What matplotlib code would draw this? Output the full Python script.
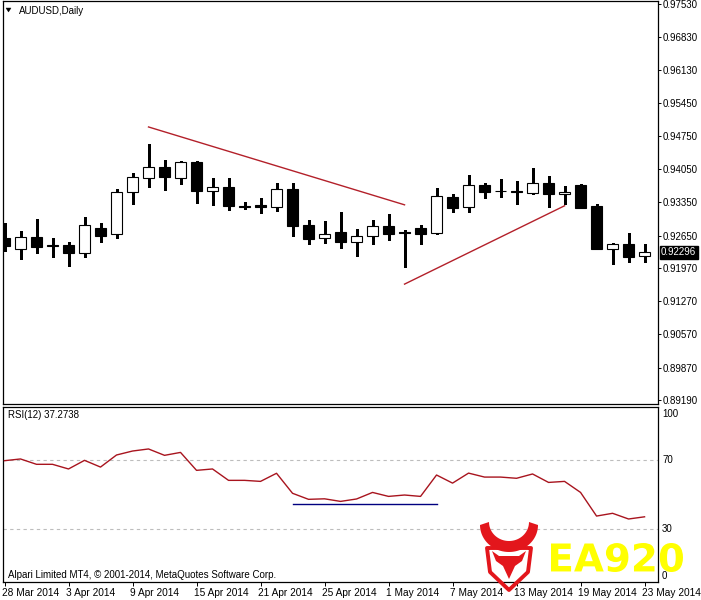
import matplotlib
matplotlib.use("Agg")
import matplotlib.pyplot as plt
import numpy as np
from matplotlib.transforms import ScaledTranslation
from matplotlib.textpath import TextPath
from matplotlib.font_manager import FontProperties
from matplotlib.patches import PathPatch, Polygon
from matplotlib.path import Path

# ---------------- data ----------------
symbol = "AUDUSD,Daily"
opens = [0.9260, 0.9237, 0.9262, 0.9245, 0.9246, 0.9229, 0.9281, 0.9269, 0.9357, 0.9387,
         0.9410, 0.9387, 0.9420, 0.9359, 0.9368, 0.9327, 0.9330, 0.9326, 0.9363, 0.9288,
         0.9260, 0.9273, 0.9252, 0.9264, 0.9286, 0.9273, 0.9281, 0.9271, 0.9347, 0.9326,
         0.9372, 0.9360, 0.9359, 0.9355, 0.9376, 0.9353, 0.9372, 0.9328, 0.9237, 0.9248,
         0.9223]
highs = [0.9292, 0.9275, 0.9300, 0.9260, 0.9252, 0.9305, 0.9292, 0.9363, 0.9397, 0.9458,
         0.9424, 0.9422, 0.9422, 0.9387, 0.9387, 0.9336, 0.9345, 0.9376, 0.9376, 0.9298,
         0.9296, 0.9315, 0.9279, 0.9298, 0.9311, 0.9277, 0.9288, 0.9366, 0.9353, 0.9393,
         0.9376, 0.9385, 0.9380, 0.9408, 0.9391, 0.9370, 0.9374, 0.9332, 0.9250, 0.9271,
         0.9248]
lows = [0.9233, 0.9216, 0.9229, 0.9221, 0.9202, 0.9221, 0.9252, 0.9260, 0.9332, 0.9368,
        0.9361, 0.9374, 0.9334, 0.9330, 0.9319, 0.9321, 0.9313, 0.9317, 0.9264, 0.9248,
        0.9250, 0.9239, 0.9223, 0.9248, 0.9256, 0.9200, 0.9248, 0.9269, 0.9315, 0.9315,
        0.9345, 0.9347, 0.9332, 0.9353, 0.9326, 0.9332, 0.9323, 0.9236, 0.9206, 0.9210,
        0.9210]
closes = [0.9244, 0.9262, 0.9241, 0.9243, 0.9229, 0.9288, 0.9264, 0.9357, 0.9389, 0.9410,
          0.9389, 0.9420, 0.9359, 0.9368, 0.9328, 0.9325, 0.9326, 0.9363, 0.9286, 0.9258,
          0.9269, 0.9252, 0.9264, 0.9286, 0.9269, 0.9271, 0.9269, 0.9349, 0.9324, 0.9372,
          0.9357, 0.9359, 0.9357, 0.9376, 0.9353, 0.9357, 0.9324, 0.9237, 0.9248, 0.9221,
          0.92296]
rsi = [69.8, 70.8, 67.7, 67.7, 65.0, 70.0, 66.1, 73.1, 75.4, 76.6,
       72.9, 74.6, 64.2, 65.0, 58.4, 58.4, 57.8, 62.5, 50.9, 47.4,
       47.7, 46.2, 47.6, 51.4, 49.1, 49.9, 49.1, 61.5, 56.8, 62.6,
       60.3, 60.3, 59.6, 62.1, 57.2, 57.8, 51.4, 37.7, 39.3, 36.0,
       37.27]
date_labels = ["28 Mar 2014", "3 Apr 2014", "9 Apr 2014", "15 Apr 2014", "21 Apr 2014",
               "25 Apr 2014", "1 May 2014", "7 May 2014", "13 May 2014", "19 May 2014",
               "23 May 2014"]
date_label_bars = [0, 4, 8, 12, 16, 20, 24, 28, 32, 36, 40]
price_ticks = [0.97530, 0.96830, 0.96130, 0.95450, 0.94750, 0.94050, 0.93350,
               0.92650, 0.91970, 0.91270, 0.90570, 0.89870, 0.89190]
rsi_levels = [70, 30]
rsi_axis_labels = [100, 70, 30, 0]
rsi_title = "RSI(12) 37.2738"
last_price = 0.92296
copyright_text = "Alpari Limited MT4, \u00a9 2001-2014, MetaQuotes Software Corp."
trend_down = ([9, 25], [0.9494, 0.9330])
trend_up = ([25, 35], [0.9163, 0.9328])
rsi_hline = ([18, 27], [44.7, 44.7])

# ---------------- layout ----------------
W, H = 701, 600
fig = plt.figure(figsize=(W / 100, H / 100), dpi=100, facecolor="white")

def fbox(x0, y0, x1, y1):
    return [x0 / W, 1 - y1 / H, (x1 - x0) / W, (y1 - y0) / H]

ax = fig.add_axes(fbox(3, 1, 658, 404))
ax2 = fig.add_axes(fbox(3, 406.7, 658, 582.3))

LAB = ["Liberation Sans", "DejaVu Sans"]
NARROW = ["Liberation Sans Narrow", "Liberation Sans", "DejaVu Sans"]

x = np.arange(len(opens))
o = np.array(opens); c = np.array(closes)
hi = np.array(highs); lo = np.array(lows)
up = c >= o

# wicks
ax.vlines(x, lo, hi, color="black", linewidth=0.9, zorder=2, antialiased=False)
# bodies
bottoms = np.minimum(o, c)
heights = np.maximum(np.abs(c - o), 0.00004)
ax.bar(x, heights, bottom=bottoms, width=0.64,
       color=np.where(up, "white", "black"), edgecolor="black",
       linewidth=0.8, zorder=3)

# trend lines
ax.plot(trend_down[0], trend_down[1], color="#B3202A", linewidth=1.0, zorder=4)
ax.plot(trend_up[0], trend_up[1], color="#B3202A", linewidth=1.0, zorder=4)

ax.set_xlim(-0.094, 40.84)
ax.set_ylim(0.89105, 0.97593)
ax.set_xticks([])
ax.yaxis.tick_right()
ax.set_yticks(price_ticks)
ax.set_yticklabels([f"{v:.5f}" for v in price_ticks], family=LAB, fontsize=7)
ax.tick_params(axis="y", length=2.2, width=0.7, pad=1.2, colors="black")
for s in ax.spines.values():
    s.set_linewidth(0.9)
    s.set_color("black")

# last price box
ax.text(1.0, last_price, f"{last_price:.5f}",
        transform=ax.get_yaxis_transform() + ScaledTranslation(3 / 100, 0, fig.dpi_scale_trans),
        ha="left", va="center", fontsize=7, family=LAB, color="white",
        bbox=dict(boxstyle="square,pad=0.15", facecolor="black", edgecolor="black"),
        zorder=6, clip_on=False)

# title with triangle
fig.add_artist(Polygon([(6 / W, 1 - 8 / H), (11 / W, 1 - 8 / H), (8.5 / W, 1 - 12 / H)],
                       closed=True, transform=fig.transFigure, facecolor="black",
                       edgecolor="black", linewidth=0.3))
fig.text(19 / W, 1 - 10.5 / H, symbol, ha="left", va="center", fontsize=7, family=LAB)

# ---------------- RSI panel ----------------
ax2.plot(x, rsi, color="#A8141E", linewidth=1.0, zorder=3)
for lv in rsi_levels:
    ax2.axhline(lv, color="#BDBDBD", linewidth=0.8, linestyle=(0, (3, 3)), zorder=1)
ax2.plot(rsi_hline[0], rsi_hline[1], color="#000080", linewidth=1.0, zorder=4)
ax2.set_xlim(-0.094, 40.84)
ax2.set_ylim(-0.7, 101.1)
ax2.set_yticks([])
for s in ax2.spines.values():
    s.set_linewidth(0.9)
    s.set_color("black")

off = ScaledTranslation(4 / 100, 0, fig.dpi_scale_trans)
for lv in rsi_axis_labels:
    va = "top" if lv == 100 else ("bottom" if lv == 0 else "center")
    ax2.text(1.0, lv, str(lv), transform=ax2.get_yaxis_transform() + off,
             ha="left", va=va, fontsize=7, family=LAB, clip_on=False)

fig.text(8 / W, 1 - 415 / H, rsi_title, ha="left", va="center", fontsize=7, family=LAB)
fig.text(8 / W, 1 - 575 / H, copyright_text, ha="left", va="center", fontsize=7, family=LAB)

ax2.set_xticks(date_label_bars)
ax2.set_xticklabels(date_labels, family=NARROW, fontsize=7.3, ha="left")
ax2.tick_params(axis="x", direction="out", length=3, width=0.7, pad=1.0)
lshift = ScaledTranslation(-3 / 100, 0, fig.dpi_scale_trans)
for lab in ax2.get_xticklabels():
    lab.set_transform(lab.get_transform() + lshift)

# ---------------- watermark logo ----------------
red = "#E3161C"

def fpts(pts):
    return [(px / W, 1 - py / H) for px, py in pts]

t = np.linspace(0, np.pi, 50)
outer = [(509 + 29 * np.cos(a), 525 + 27 * np.sin(a)) for a in t]
inner = [(509 + 20 * np.cos(a), 522 + 19 * np.sin(a)) for a in t[::-1]]
fig.add_artist(Polygon(fpts(outer + inner), closed=True, transform=fig.transFigure,
                       facecolor=red, edgecolor="none", zorder=10))
# shield outline (rounded sides)
s = np.linspace(0, 1, 20)
left_side = [(487 + 3 * si, 548 + 24 * si) for si in s]
right_side = [(531 - 3 * si, 548 + 24 * si) for si in s]
shield = ([(487, 548)] + left_side[1:] + [(509, 590)] + right_side[::-1])
fig.add_artist(Polygon(fpts(shield), closed=True, transform=fig.transFigure,
                       facecolor="none", edgecolor=red, linewidth=2.8,
                       joinstyle="round", zorder=10))
head = [(492, 551), (499, 556), (519, 556), (526, 551), (522, 561), (515, 566),
        (509, 579), (503, 566), (496, 561)]
fig.add_artist(Polygon(fpts(head), closed=True, transform=fig.transFigure,
                       facecolor=red, edgecolor="none", zorder=10))

tp = TextPath((0, 0), "EA920", size=1, prop=FontProperties(family="DejaVu Sans", weight="bold"))
bb = tp.get_extents()
v = tp.vertices
px = 551 + (v[:, 0] - bb.x0) / bb.width * 132
py = 572 - (v[:, 1] - bb.y0) / bb.height * 29
tpath = Path(np.column_stack([px / W, 1 - py / H]), tp.codes)
fig.add_artist(PathPatch(tpath, transform=fig.transFigure, facecolor="#FFFF00",
                         edgecolor="none", zorder=9))

fig.savefig("out.png", dpi=100, facecolor="white")
